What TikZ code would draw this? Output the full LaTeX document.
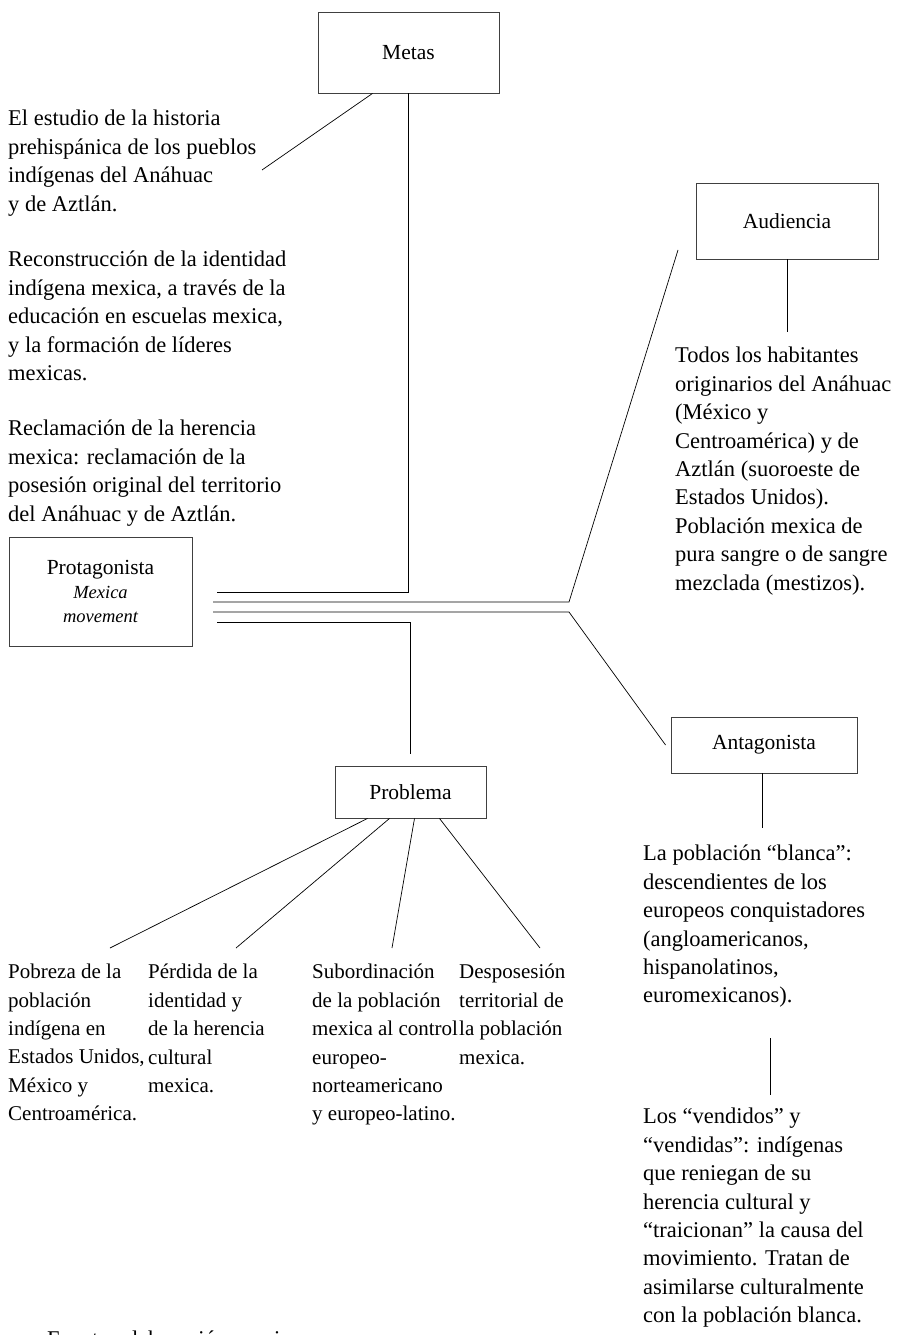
\documentclass[tikz,border=0pt]{standalone}
\usepackage{fontspec}
\setmainfont{Liberation Serif}
\newcommand{\txtfont}{\fontsize{22.5}{28.4}\selectfont}
\newcommand{\colfont}{\fontsize{21}{28.4}\selectfont}

\begin{document}
\begin{tikzpicture}[x=1pt,y=-1pt,
		box/.style={draw=black!75, line width=0.9pt, inner sep=0pt, font=\fontsize{21.5}{26}\selectfont},
		note/.style={anchor=north west, inner sep=0pt, align=left, font=\txtfont, execute at begin node=\strut},
		col/.style={note, font=\colfont},
		link/.style={line width=0.7pt}]
		\useasboundingbox (0,0) rectangle (897,1335);

		% boxes
		\node[box, minimum width=181pt, minimum height=81pt] (metas) at (408.5,52.5) {Metas};
		\node[box, minimum width=182pt, minimum height=76pt] (audiencia) at (787,221) {Audiencia};
		\node[box, minimum width=183pt, minimum height=109pt, align=center] (protag) at (100.5,591.5)
			{Protagonista\\[-2pt]{\itshape\fontsize{18.5}{26}\selectfont Mexica}\\[-2pt]{\itshape\fontsize{18.5}{26}\selectfont movement}};
		\node[box, minimum width=151pt, minimum height=52pt] (problema) at (410.5,792) {Problema};
		\node[box, minimum width=186pt, minimum height=56pt] (antag) at (764,745) {Antagonista};

		% metas
		\node[note] (meta1) at (8,110) {El estudio de la historia\\prehispánica de los pueblos\\indígenas del Anáhuac\\y de Aztlán.};
		\node[note] (meta2) at (8,251) {Reconstrucción de la identidad\\indígena mexica, a través de la\\educación en escuelas mexica,\\y la formación de líderes\\mexicas.};
		\node[note] (meta3) at (8,420) {Reclamación de la herencia\\mexica: reclamación de la\\posesión original del territorio\\del Anáhuac y de Aztlán.};

		% audiencia
		\node[note] (aud) at (675,347) {Todos los habitantes\\originarios del Anáhuac\\(México y\\Centroamérica) y de\\Aztlán (suoroeste de\\Estados Unidos).\\Población mexica de\\pura sangre o de sangre\\mezclada (mestizos).};

		% antagonista
		\node[note] (blanca) at (643,845) {La población “blanca”:\\descendientes de los\\europeos conquistadores\\(angloamericanos,\\hispanolatinos,\\euromexicanos).};
		\node[note] (vendidos) at (643,1108) {Los “vendidos” y\\“vendidas”: indígenas\\que reniegan de su\\herencia cultural y\\“traicionan” la causa del\\movimiento. Tratan de\\asimilarse culturalmente\\con la población blanca.};

		% problema
		\node[col] (pobreza) at (8,964) {Pobreza de la\\población\\indígena en\\Estados Unidos,\\México y\\Centroamérica.};
		\node[col] (perdida) at (148,964) {Pérdida de la\\identidad y\\de la herencia\\cultural\\mexica.};
		\node[col] (subord) at (312,964) {Subordinación\\de la población\\mexica al control\\europeo-\\norteamericano\\y europeo-latino.};
		\node[col] (despos) at (459,964) {Desposesión\\territorial de\\la población\\mexica.};

		% fuente (cut by the page)
		\node[anchor=base west, inner sep=0pt, font=\txtfont] (fuente) at (47,1346) {Fuente: elaboración propia.};

		% free ends
		\coordinate (m1) at (262,170);
		\coordinate (pm) at (217,592);
		\coordinate (pa) at (213,602);
		\coordinate (ka) at (569,602);
		\coordinate (a1) at (678,250);
		\coordinate (pt) at (213,612);
		\coordinate (kt) at (569,612);
		\coordinate (pp) at (217,622);
		\coordinate (a2) at (787,332);
		\coordinate (t1) at (762,828);
		\coordinate (t2) at (770,1038);
		\coordinate (t3) at (770,1095);

		% protagonista branches
		\draw[link] ([xshift=-36pt]metas.south) -- (m1);
		\draw[link] (metas.south) |- (pm);
		\draw[link] (pa) -- (ka) -- (a1);
		\draw[link] (pt) -- (kt) -- ([xshift=-5pt]antag.west);
		\draw[link] (pp) -| ([yshift=12pt]problema.north);

		% audiencia, antagonista
		\draw[link] (audiencia.south) -- (a2);
		\draw[link] ([xshift=-2pt]antag.south) -- (t1);
		\draw[link] (t2) -- (t3);

		% problema branches
		\draw[link] ([xshift=-43pt]problema.south) -- ([xshift=102pt,yshift=16pt]pobreza.north west);
		\draw[link] ([xshift=-21pt]problema.south) -- ([xshift=88pt,yshift=16pt]perdida.north west);
		\draw[link] ([xshift=4pt]problema.south) -- ([xshift=80pt,yshift=16pt]subord.north west);
		\draw[link] ([xshift=29pt]problema.south) -- ([xshift=81pt,yshift=16pt]despos.north west);
	\end{tikzpicture}
\end{document}
